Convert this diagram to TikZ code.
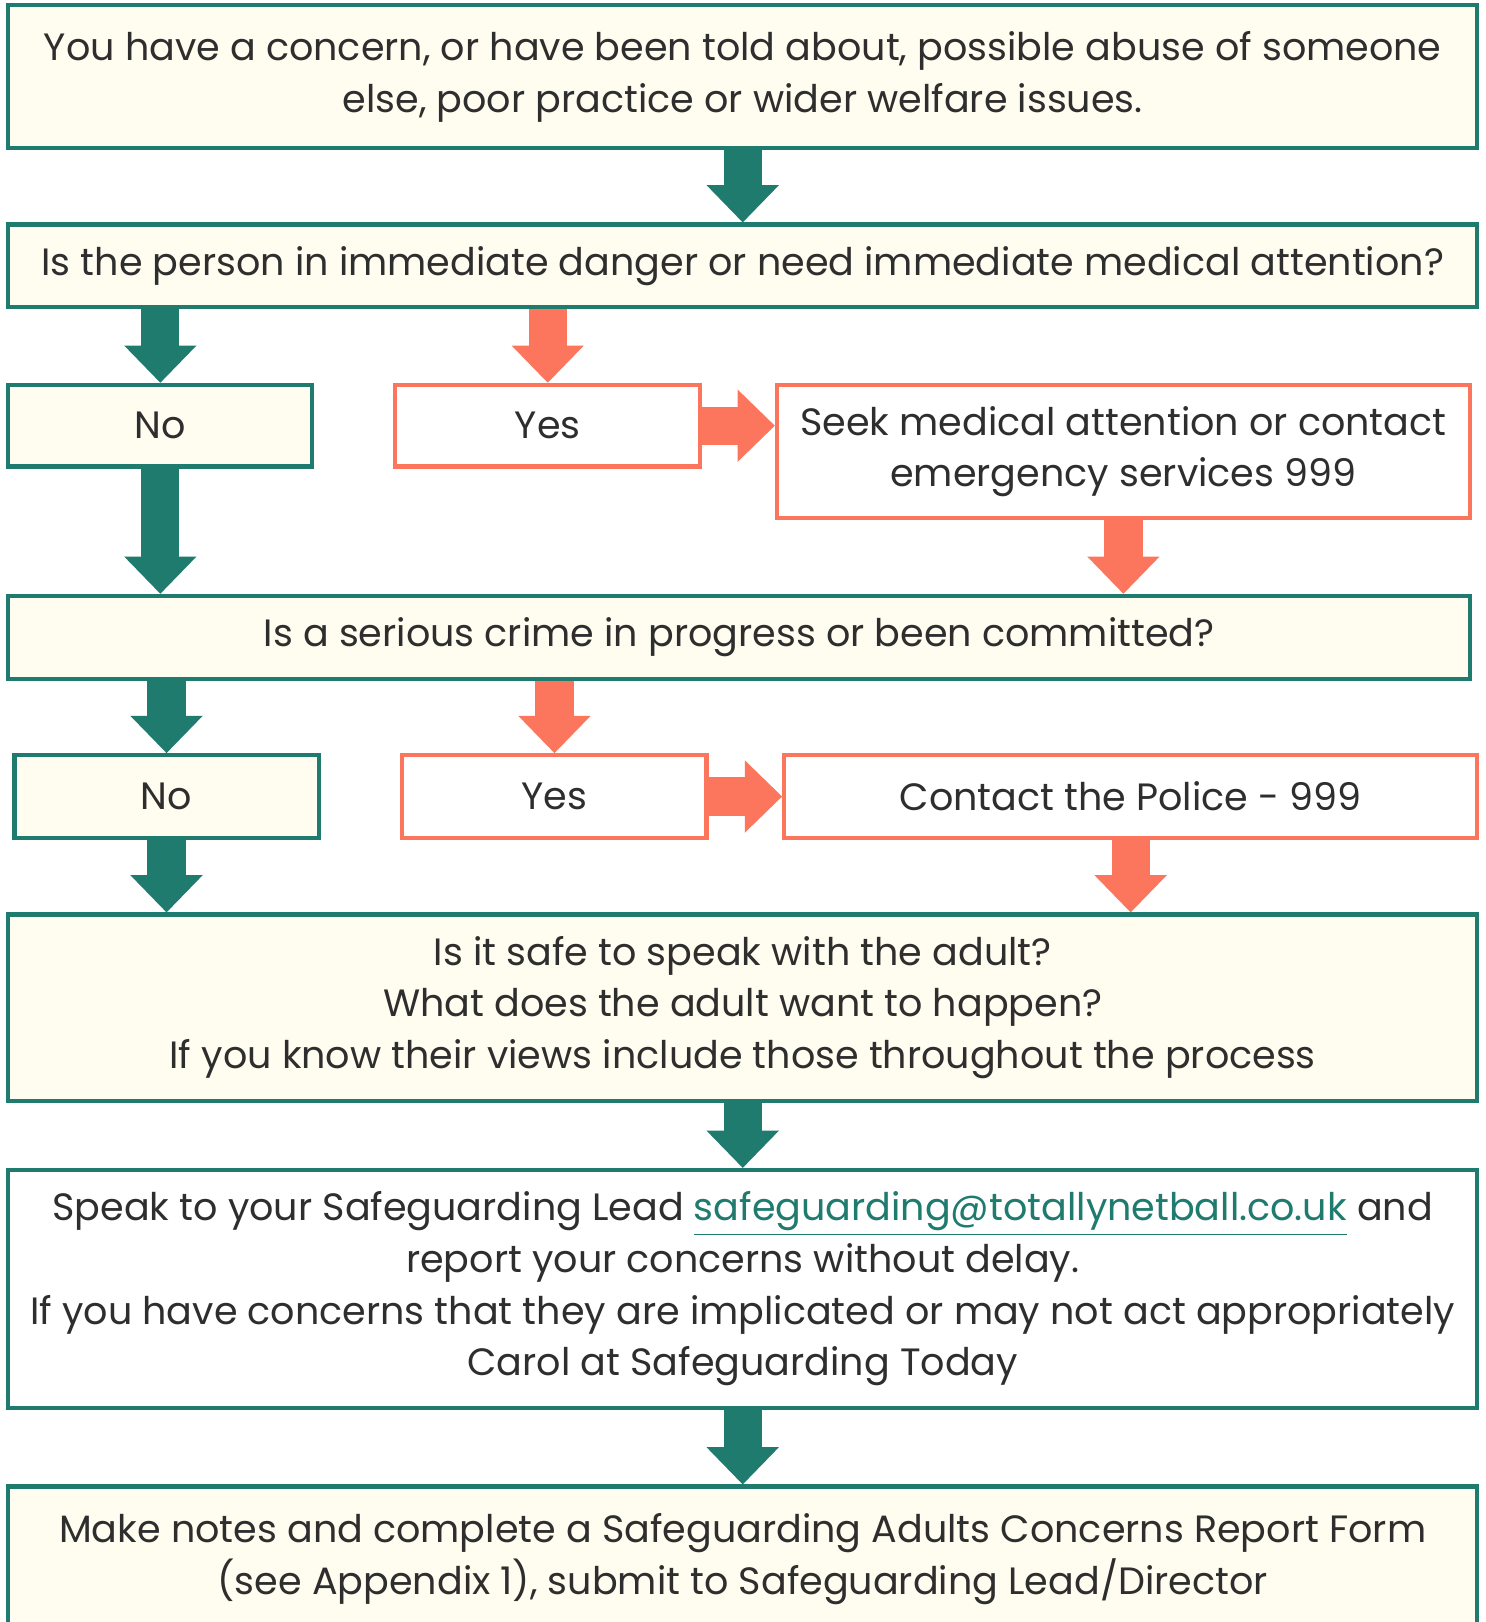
\documentclass[tikz,border=0pt]{standalone}
\usepackage{fontspec}
\setmainfont{Poppins}
\usetikzlibrary{arrows.meta}
\definecolor{dark_green}{HTML}{1F7B6E}
\definecolor{coral}{HTML}{FC765E}
\definecolor{cream}{HTML}{FFFDF0}
\definecolor{text_grey}{HTML}{2E2E2E}

\begin{document}
\begin{tikzpicture}[x=0.5pt, y=-0.5pt, font=\fontsize{18.4}{25}\selectfont, text=text_grey,
	greenbox/.style={draw=dark_green, line width=2pt, fill=cream, inner sep=0pt, align=center},
	whitebox/.style={draw=dark_green, line width=2pt, fill=white, inner sep=0pt, align=center},
	coralbox/.style={draw=coral, line width=2pt, fill=white, inner sep=0pt, align=center},
	greenarrow/.style={dark_green, line width=18.5pt, -{Triangle[width=35pt, length=18pt, line width=0pt]}},
	coralarrow/.style={coral, line width=18.5pt, -{Triangle[width=35pt, length=18pt, line width=0pt]}}]
	\useasboundingbox (0, 0) rectangle (1436, 1568);
	\fill[white] (0, 0) rectangle (1436, 1568);
	\node[greenbox, minimum width=710pt, minimum height=69pt] (concern) at (718, 74) {You have a concern, or have been told about, possible abuse of someone\\else, poor practice or wider welfare issues.};
	\node[greenbox, minimum width=710pt, minimum height=40pt] (danger) at (718, 257) {Is the person in immediate danger or need immediate medical attention?};
	\node[greenbox, minimum width=147pt, minimum height=39.5pt] (no_a) at (155, 411.5) {No};
	\node[coralbox, minimum width=147.5pt, minimum height=39.5pt] (yes_a) at (529.5, 411.5) {Yes};
	\node[coralbox, minimum width=335pt, minimum height=64.5pt] (medical) at (1086, 436.5) {Seek medical attention or contact\\emergency services 999};
	\node[greenbox, minimum width=706.5pt, minimum height=40pt] (crime) at (714.5, 616) {Is a serious crime in progress or been committed?};
	\node[greenbox, minimum width=147pt, minimum height=40pt] (no_b) at (161, 770) {No};
	\node[coralbox, minimum width=147pt, minimum height=40pt] (yes_b) at (536, 770) {Yes};
	\node[coralbox, minimum width=335pt, minimum height=40pt] (police) at (1093, 770) {Contact the Police - 999};
	\node[greenbox, minimum width=710pt, minimum height=90pt] (safe) at (718, 974) {Is it safe to speak with the adult?\\What does the adult want to happen?\\If you know their views include those throughout the process};
	\node[whitebox, minimum width=710pt, minimum height=115pt] (lead) at (718, 1246) {Speak to your Safeguarding Lead \textcolor{dark_green}{\underline{safeguarding@totallynetball.co.uk}} and\\report your concerns without delay.\\If you have concerns that they are implicated or may not act appropriately\\Carol at Safeguarding Today};
	\node[greenbox, minimum width=710pt, minimum height=70pt] (notes) at (718, 1507) {Make notes and complete a Safeguarding Adults Concerns Report Form\\(see Appendix 1), submit to Safeguarding Lead/Director};
	\draw[greenarrow] (concern.south) -- (danger.north);
	\draw[greenarrow] (no_a.north |- danger.south) -- (no_a.north);
	\draw[coralarrow] (yes_a.north |- danger.south) -- (yes_a.north);
	\draw[coralarrow] (yes_a.east) -- (yes_a.east -| medical.west);
	\draw[greenarrow] (no_a.south) -- (no_a.south |- crime.north);
	\draw[coralarrow] (medical.south) -- (medical.south |- crime.north);
	\draw[greenarrow] (no_b.north |- crime.south) -- (no_b.north);
	\draw[coralarrow] (yes_b.north |- crime.south) -- (yes_b.north);
	\draw[coralarrow] (yes_b.east) -- (police.west);
	\draw[greenarrow] (no_b.south) -- (no_b.south |- safe.north);
	\draw[coralarrow] (police.south) -- (police.south |- safe.north);
	\draw[greenarrow] (safe.south) -- (lead.north);
	\draw[greenarrow] (lead.south) -- (notes.north);
\end{tikzpicture}
\end{document}
